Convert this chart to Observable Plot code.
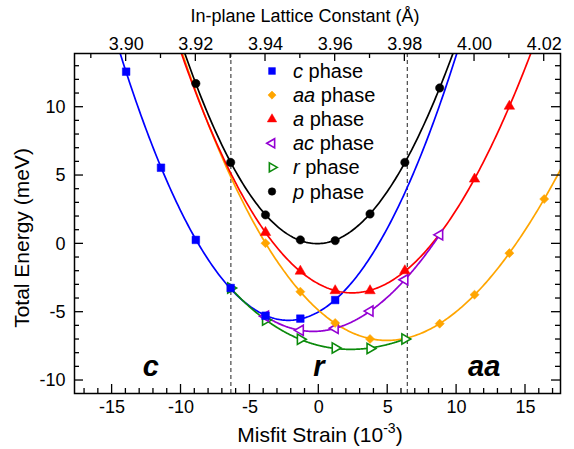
<!DOCTYPE html>
<html><head><meta charset="utf-8">
<script src="https://cdn.jsdelivr.net/npm/d3@7"></script>
<script src="https://cdn.jsdelivr.net/npm/@observablehq/plot@0.6"></script>
<style>
body{margin:0;background:#fff;}
#chart svg{font-family:"Liberation Sans", Arial, Helvetica, sans-serif; overflow:visible;}
</style>
</head><body><div id="chart"></div>
<script>
// reference lattice constant (zero misfit strain), Å
const a0 = 3.9553;
// phase data: in-plane lattice constant (Å) and total energy (meV)
const cLattice  = [3.90, 3.91, 3.92, 3.93, 3.94, 3.95, 3.96];
const cEnergy   = [12.6, 5.57, 0.29, -3.23, -5.26, -5.47, -4.11];
const aaLattice = [3.94, 3.95, 3.96, 3.97, 3.99, 4.00, 4.01, 4.02];
const aaEnergy  = [0.05, -3.5, -5.79, -6.96, -5.84, -3.72, -0.68, 3.28];
const aLattice  = [3.94, 3.95, 3.96, 3.97, 3.98, 4.00, 4.01];
const aEnergy   = [0.83, -2.0, -3.43, -3.43, -1.97, 4.74, 10.07];
const acLattice = [3.94, 3.95, 3.96, 3.97, 3.98, 3.99];
const acEnergy  = [-5.3, -6.33, -6.18, -4.92, -2.63, 0.66];
const rLattice  = [3.93, 3.94, 3.95, 3.96, 3.97, 3.98];
const rEnergy   = [-3.23, -5.58, -6.98, -7.62, -7.66, -6.96];
const pLattice  = [3.92, 3.93, 3.94, 3.95, 3.96, 3.97, 3.98, 3.99];
const pEnergy   = [11.73, 5.96, 2.12, 0.29, 0.24, 2.19, 5.96, 11.41];
// phase boundaries (misfit strain, 1e-3)
const boundaries = [-6.38, 6.42];
// region labels
const regionNames = ["c", "r", "aa"];
const regionStrain = [-12.2, 0, 12.0];
const regionEnergy = [-9.0, -9.0, -9.0];
// axis ticks
const strainTicks = [-15, -10, -5, 0, 5, 10, 15];
const energyTicks = [-10, -5, 0, 5, 10];
const latticeTicks = [3.90, 3.92, 3.94, 3.96, 3.98, 4.00, 4.02];
const latticeMinor = [3.89, 3.90, 3.91, 3.92, 3.93, 3.94, 3.95, 3.96, 3.97, 3.98, 3.99, 4.00, 4.01, 4.02];
const legendNames = ["c", "aa", "a", "ac", "r", "p"];

const toStrain = L => (L - a0) / a0 * 1000;
const toLattice = s => a0 * (1 + s / 1000);

const xDomain = [-17.73, 17.54];
const yDomain = [-10.95, 13.93];

function polyfit(xs, ys, deg) {
  const n = deg + 1;
  const A = Array.from({length: n}, () => new Array(n + 1).fill(0));
  xs.forEach((x, i) => {
    for (let r = 0; r < n; r++) {
      for (let c = 0; c < n; c++) A[r][c] += Math.pow(x, r + c);
      A[r][n] += ys[i] * Math.pow(x, r);
    }
  });
  for (let col = 0; col < n; col++) {
    let piv = col;
    for (let r = col + 1; r < n; r++) if (Math.abs(A[r][col]) > Math.abs(A[piv][col])) piv = r;
    [A[col], A[piv]] = [A[piv], A[col]];
    for (let r = 0; r < n; r++) if (r !== col) {
      const f = A[r][col] / A[col][col];
      for (let c = col; c <= n; c++) A[r][c] -= f * A[col][c];
    }
  }
  return A.map((row, i) => row[n] / row[i]);
}
const polyval = (co, x) => co.reduce((s, c, k) => s + c * Math.pow(x, k), 0);

const series = [
  {key: "c",  lat: cLattice,  E: cEnergy,  color: "#0000ff", symbol: "square",   filled: true,  rotate: 0,   r: 4.3, deg: 2, full: true},
  {key: "aa", lat: aaLattice, E: aaEnergy, color: "#ffa500", symbol: "diamond2", filled: true,  rotate: 0,   r: 4.1, deg: 3, full: true},
  {key: "a",  lat: aLattice,  E: aEnergy,  color: "#ff0000", symbol: "triangle", filled: true,  rotate: 0,   r: 3.9, deg: 3, full: true},
  {key: "ac", lat: acLattice, E: acEnergy, color: "#9400d3", symbol: "triangle", filled: false, rotate: -90, r: 3.8, deg: 3, full: false},
  {key: "r",  lat: rLattice,  E: rEnergy,  color: "#0b8a0b", symbol: "triangle", filled: false, rotate: 90,  r: 3.8, deg: 3, full: false},
  {key: "p",  lat: pLattice,  E: pEnergy,  color: "#000000", symbol: "circle",   filled: true,  rotate: 0,   r: 4.2, deg: 4, full: true}
];

series.forEach(s => {
  s.pts = s.lat.map((L, i) => ({x: toStrain(L), y: s.E[i]}));
  const co = polyfit(s.pts.map(d => d.x), s.E, s.deg);
  const x0 = s.full ? xDomain[0] : s.pts[0].x;
  const x1 = s.full ? xDomain[1] : s.pts[s.pts.length - 1].x;
  const step = (x1 - x0) / 300;
  s.curve = d3.range(0, 301).map(k => ({x: x0 + k * step, y: polyval(co, x0 + k * step)}));
});

const lineMarks = series.map(s => Plot.line(s.curve, {x: "x", y: "y", stroke: s.color, strokeWidth: 1.7, clip: true, curve: "linear"}));
const dotOrder = ["r", "ac", "aa", "a", "c", "p"];
const dotMarks = dotOrder.map(k => {
  const s = series.find(t => t.key === k);
  return Plot.dot(s.pts, {x: "x", y: "y", symbol: s.symbol, r: s.r, rotate: s.rotate,
    fill: s.filled ? s.color : "#fff", stroke: s.color, strokeWidth: s.filled ? 0.5 : 1.6});
});

const chart = Plot.plot({
  width: 574, height: 449,
  marginLeft: 74, marginRight: 14, marginTop: 53, marginBottom: 56,
  style: {fontFamily: '"Liberation Sans", Arial, sans-serif', background: "#fff", color: "#000"},
  x: {domain: xDomain},
  y: {domain: yDomain},
  marks: [
    Plot.ruleX(boundaries, {stroke: "#222", strokeWidth: 1, strokeDasharray: "4,3"}),
    ...lineMarks,
    ...dotMarks,
    Plot.text(regionNames, {x: (d, i) => regionStrain[i], y: (d, i) => regionEnergy[i], text: d => d,
      fontSize: 29, fontWeight: "bold", fontStyle: "italic", fill: "#000"}),
    Plot.axisX(strainTicks, {anchor: "bottom", tickSize: 0, tickPadding: 7, fontSize: 18, label: null, tickFormat: d => String(d)}),
    Plot.axisY(energyTicks, {anchor: "left", tickSize: 0, tickPadding: 9, fontSize: 18, label: null, tickFormat: d => String(d)}),
    Plot.axisX(latticeTicks.map(toStrain), {anchor: "top", tickSize: 0, tickPadding: 4, fontSize: 18, label: null, tickFormat: d => d3.format(".2f")(toLattice(d))}),
    Plot.frame({stroke: "#000", strokeWidth: 1.5})
  ]
});

const svg = d3.select(chart);
const X = chart.scale("x").apply, Y = chart.scale("y").apply;
const fLeft = 74, fRight = 574 - 14, fTop = 53, fBottom = 449 - 56;
const g = svg.append("g").attr("stroke", "#000").attr("stroke-width", 1.3);
// bottom ticks (strain), inward
d3.range(-17, 18, 1).forEach(v => {
  const len = v % 5 === 0 ? 9 : 5;
  g.append("line").attr("x1", X(v)).attr("x2", X(v)).attr("y1", fBottom).attr("y2", fBottom - len);
});
// top ticks (lattice), inward
latticeMinor.forEach(L => {
  const major = latticeTicks.some(t => Math.abs(t - L) < 1e-6);
  const len = major ? 8 : 5;
  g.append("line").attr("x1", X(toStrain(L))).attr("x2", X(toStrain(L))).attr("y1", fTop).attr("y2", fTop + len);
});
// left and right ticks (energy), inward
d3.range(-10, 14, 1).forEach(v => {
  const len = v % 5 === 0 ? 9 : 5;
  g.append("line").attr("x1", fLeft).attr("x2", fLeft + len).attr("y1", Y(v)).attr("y2", Y(v));
  g.append("line").attr("x1", fRight).attr("x2", fRight - len).attr("y1", Y(v)).attr("y2", Y(v));
});

// axis titles
const fam = '"Liberation Sans", Arial, sans-serif';
svg.append("text").attr("x", 305).attr("y", 22).attr("text-anchor", "middle")
  .attr("font-size", 18).attr("font-family", fam).attr("fill", "#000").text("In-plane Lattice Constant (Å)");
const xt = svg.append("text").attr("x", 320).attr("y", 442).attr("text-anchor", "middle")
  .attr("font-size", 21).attr("font-family", fam).attr("fill", "#000");
xt.append("tspan").text("Misfit Strain (10");
xt.append("tspan").attr("font-size", 14).attr("dy", -9).text("-3");
xt.append("tspan").attr("dy", 9).text(")");
svg.append("text").attr("transform", "translate(29,238) rotate(-90)").attr("text-anchor", "middle")
  .attr("font-size", 21).attr("font-family", fam).attr("fill", "#000").text("Total Energy (meV)");

// legend
const lg = svg.append("g");
const symMap = {square: d3.symbolSquare, diamond2: d3.symbolDiamond2, triangle: d3.symbolTriangle, circle: d3.symbolCircle};
legendNames.forEach((k, i) => {
  const s = series.find(t => t.key === k);
  const yy = 71 + i * 24.1;
  lg.append("path").attr("d", d3.symbol(symMap[s.symbol], Math.PI * s.r * s.r * 0.8)())
    .attr("transform", `translate(272,${yy}) rotate(${s.rotate})`)
    .attr("fill", s.filled ? s.color : "#fff").attr("stroke", s.color).attr("stroke-width", s.filled ? 0.5 : 1.6);
  const t = lg.append("text").attr("x", 293).attr("y", yy + 7).attr("text-anchor", "start")
    .attr("font-size", 20).attr("font-family", fam).attr("fill", "#000");
  t.append("tspan").attr("font-style", "italic").text(k);
  t.append("tspan").text(" phase");
});

document.getElementById("chart").appendChild(chart);
</script>
</body></html>
